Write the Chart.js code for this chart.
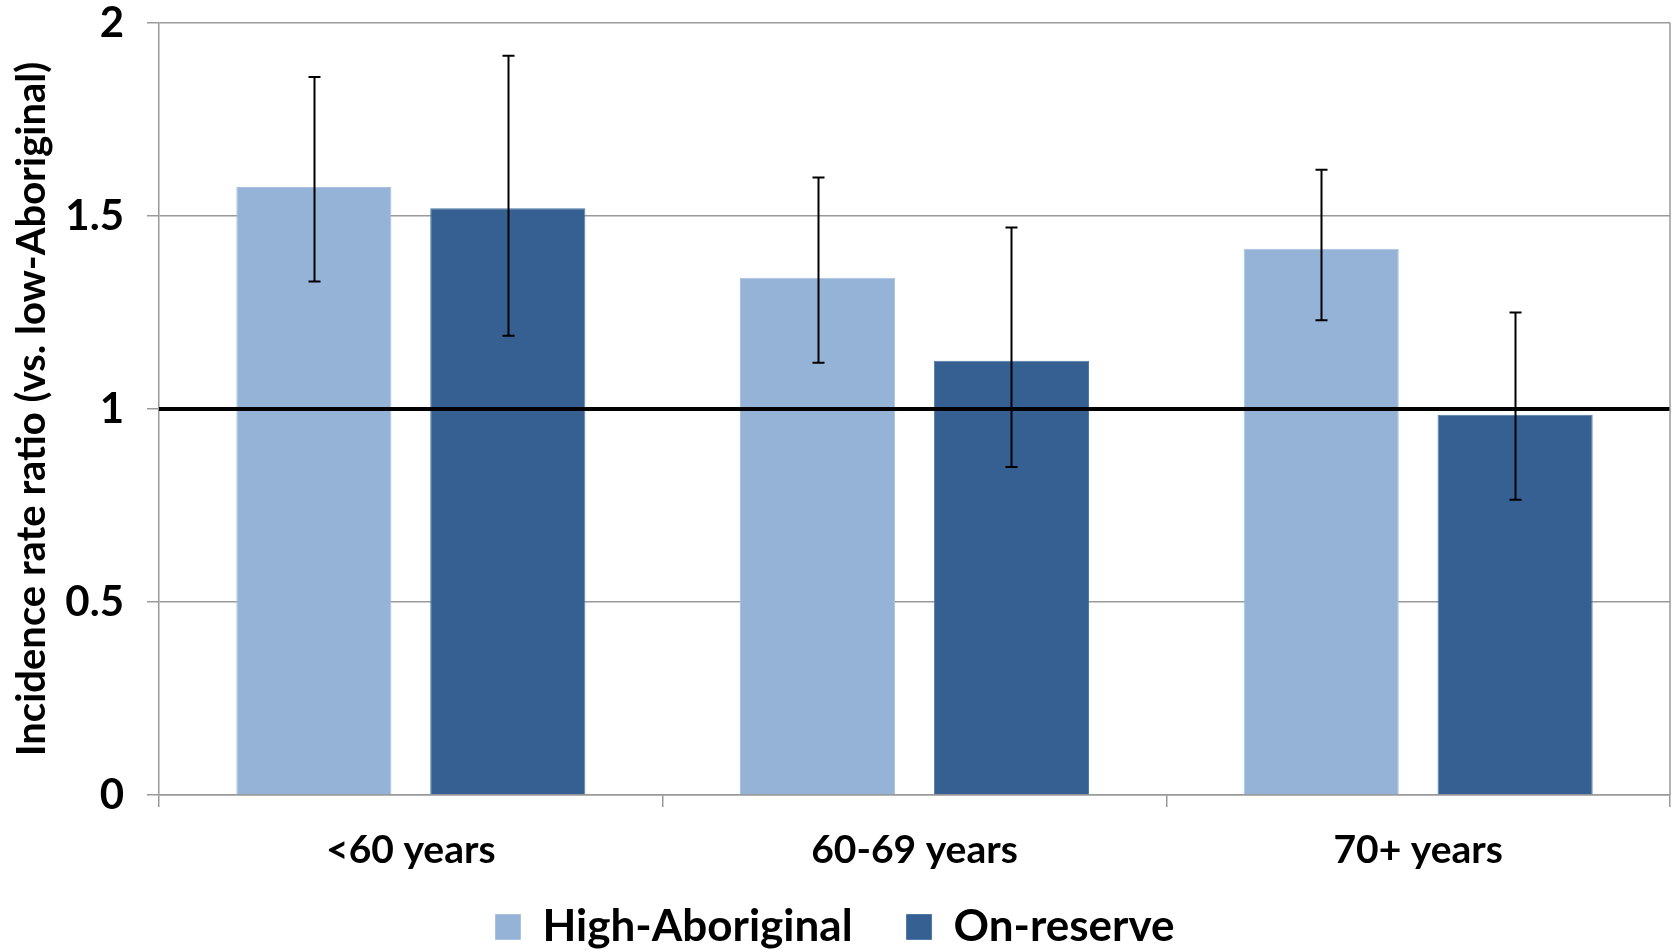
<!DOCTYPE html>
<html>
<head>
<meta charset="utf-8">
<script src="https://cdn.jsdelivr.net/npm/chart.js@4.4.1/dist/chart.umd.min.js"></script>
<style>
  html, body { margin: 0; padding: 0; background: #ffffff; }
  #wrap { width: 1673px; height: 951px; }
</style>
</head>
<body>
<div id="wrap"><canvas id="c" width="1673" height="951"></canvas></div>
<script>
// ---- data ----
const categories = ['<60 years', '60-69 years', '70+ years'];
const seriesNames = ['High-Aboriginal', 'On-reserve'];
const highAboriginal = [1.575, 1.34, 1.415];
const highAboriginalLower = [1.33, 1.12, 1.23];
const highAboriginalUpper = [1.86, 1.60, 1.62];
const onReserve = [1.52, 1.125, 0.985];
const onReserveLower = [1.19, 0.85, 0.765];
const onReserveUpper = [1.915, 1.47, 1.25];
const referenceValue = 1;
const yTickValues = [0, 0.5, 1, 1.5, 2];
const yAxisTitle = 'Incidence rate ratio (vs. low-Aboriginal)';

const FONT = 'Lato, "Open Sans", sans-serif';

const errorBarPlugin = {
  id: 'errorBars',
  beforeDraw(chart) {
    // let the category labels extend below the (short) x-axis box
    chart.scales.x._computeLabelArea = () => null;
  },
  afterDatasetsDraw(chart) {
    const ctx = chart.ctx;
    const y = chart.scales.y;
    const area = chart.chartArea;
    // reference line at 1
    const yr = y.getPixelForValue(referenceValue);
    ctx.save();
    ctx.strokeStyle = '#000000';
    ctx.lineWidth = 4;
    ctx.beginPath();
    ctx.moveTo(area.left, yr);
    ctx.lineTo(area.right, yr);
    ctx.stroke();
    // error bars
    ctx.lineWidth = 2;
    chart.data.datasets.forEach((ds, di) => {
      const meta = chart.getDatasetMeta(di);
      meta.data.forEach((bar, i) => {
        const x = Math.round(bar.x) + 0.5;
        const yl = y.getPixelForValue(ds.lower[i]);
        const yu = y.getPixelForValue(ds.upper[i]);
        ctx.beginPath();
        ctx.moveTo(x, yl); ctx.lineTo(x, yu);
        ctx.moveTo(x - 6, yl); ctx.lineTo(x + 6, yl);
        ctx.moveTo(x - 6, yu); ctx.lineTo(x + 6, yu);
        ctx.stroke();
      });
    });
    // plot-area right border
    ctx.strokeStyle = '#9a9a9a';
    ctx.lineWidth = 1.5;
    ctx.beginPath();
    ctx.moveTo(area.right, area.top);
    ctx.lineTo(area.right, area.bottom);
    ctx.stroke();
    ctx.restore();
  }
};

new Chart(document.getElementById('c'), {
  type: 'bar',
  data: {
    labels: categories,
    datasets: [
      {
        label: seriesNames[0],
        data: highAboriginal,
        lower: highAboriginalLower,
        upper: highAboriginalUpper,
        backgroundColor: '#95B3D7',
        borderColor: '#A9C1DF',
        borderWidth: 1,
        categoryPercentage: 0.77,
        barPercentage: 0.8
      },
      {
        label: seriesNames[1],
        data: onReserve,
        lower: onReserveLower,
        upper: onReserveUpper,
        backgroundColor: '#366092',
        borderColor: '#5079A8',
        borderWidth: 1,
        categoryPercentage: 0.77,
        barPercentage: 0.8
      }
    ]
  },
  options: {
    responsive: false,
    animation: false,
    layout: { padding: { top: 23, right: 3, left: 0, bottom: 0 } },
    plugins: {
      tooltip: { enabled: false },
      legend: {
        position: 'bottom',
        maxHeight: 100,
        labels: {
          font: { family: FONT, size: 44, weight: 'bold' },
          color: '#000000',
          boxWidth: 25,
          boxHeight: 25,
          padding: 54
        }
      }
    },
    scales: {
      x: {
        grid: {
          offset: true,
          drawOnChartArea: false,
          drawTicks: true,
          tickLength: 12,
          color: '#9a9a9a',
          lineWidth: 1.5
        },
        border: { color: '#9a9a9a', width: 1.5 },
        ticks: {
          font: { family: FONT, size: 39, weight: 'bold' },
          color: '#000000',
          padding: 20
        },
        afterFit(scale) {
          scale.height = 56;
          scale.paddingLeft = 0;
          scale.paddingRight = 0;
        }
      },
      y: {
        min: 0,
        max: 2,
        afterBuildTicks(scale) { scale.ticks = yTickValues.map(v => ({ value: v })); },
        grid: {
          color: '#9a9a9a',
          lineWidth: 1.5,
          tickLength: 12
        },
        border: { color: '#9a9a9a', width: 1.5 },
        ticks: {
          font: { family: FONT, size: 42, weight: 'bold' },
          color: '#000000',
          padding: 23,
          callback: (v) => String(v)
        },
        title: {
          display: true,
          text: yAxisTitle,
          font: { family: FONT, size: 40, weight: 'bold', lineHeight: 1.2 },
          color: '#000000',
          padding: { top: 8, bottom: 0 }
        },
        afterFit(scale) {
          scale.width = 159;
          scale.paddingTop = 0;
          scale.paddingBottom = 0;
        }
      }
    }
  },
  plugins: [errorBarPlugin]
});
</script>
</body>
</html>
